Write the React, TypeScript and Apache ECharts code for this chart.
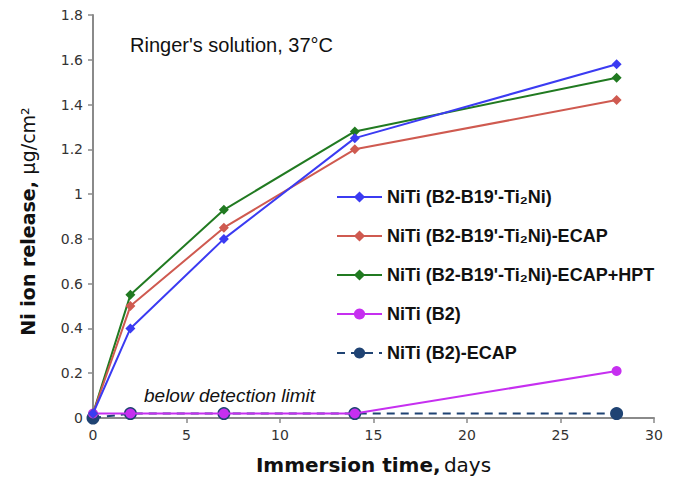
import React, { useEffect, useRef } from "react";
import * as echarts from "echarts";

const days = [0, 2, 7, 14, 28];
const seriesNames = [
  "NiTi (B2-B19'-Ti₂Ni)",
  "NiTi (B2-B19'-Ti₂Ni)-ECAP",
  "NiTi (B2-B19'-Ti₂Ni)-ECAP+HPT",
  "NiTi (B2)",
  "NiTi (B2)-ECAP",
];
const valsBase = [0.02, 0.4, 0.8, 1.25, 1.58];
const valsEcap = [0.02, 0.5, 0.85, 1.2, 1.42];
const valsEcapHpt = [0.02, 0.55, 0.93, 1.28, 1.52];
const valsB2 = [0.02, 0.02, 0.02, 0.02, 0.21];
const valsB2Ecap = [0.0, 0.02, 0.02, 0.02, 0.02];
const yTicks = ["0", "0.2", "0.4", "0.6", "0.8", "1", "1.2", "1.4", "1.6", "1.8"];

const colors = ["#3b3bf2", "#cf5a50", "#217a21", "#c62ff0", "#1f4373"];

export default function App() {
  const ref = useRef<HTMLDivElement>(null);
  useEffect(() => {
    if (!ref.current) return;
    const chart = echarts.init(ref.current, null, { renderer: "svg" });
    const mk = (vals: number[]) => vals.map((v, i) => [days[i], v]);
    const all = [valsBase, valsEcap, valsEcapHpt, valsB2, valsB2Ecap];
    const symbols = ["diamond", "diamond", "diamond", "circle", "circle"];
    const sizes = [10, 10, 10, 10, 13];
    chart.setOption({
      animation: false,
      backgroundColor: "#ffffff",
      grid: { left: 93, right: 26, top: 15, bottom: 62, containLabel: false },
      legend: {
        orient: "vertical",
        left: 331,
        top: 183,
        itemWidth: 45,
        itemHeight: 14,
        itemGap: 21,
        data: seriesNames,
        textStyle: {
          fontFamily: "Liberation Sans",
          fontWeight: "bold",
          fontSize: 18,
          lineHeight: 18,
          color: "#111",
        },
      },
      xAxis: {
        type: "value",
        min: 0,
        max: 30,
        interval: 5,
        name: "{b|Immersion time,} {n|days}",
        nameLocation: "middle",
        nameGap: 37,
        nameTextStyle: {
          rich: {
            b: { fontFamily: "DejaVu Sans", fontWeight: "bold", fontSize: 20, color: "#111" },
            n: { fontFamily: "DejaVu Sans", fontSize: 20, color: "#111" },
          },
        },
        axisLine: { lineStyle: { color: "#8a8a8a", width: 2 } },
        axisTick: { show: true, length: 5, lineStyle: { color: "#8a8a8a", width: 1.5 } },
        axisLabel: {
          fontFamily: "DejaVu Sans",
          fontSize: 14,
          color: "#333",
          margin: 10,
        },
        splitLine: { show: false },
      },
      yAxis: {
        type: "value",
        min: 0,
        max: 1.8,
        interval: 0.2,
        name: "{b|Ni ion release,}  {n|µg/cm²}",
        nameLocation: "middle",
        nameGap: 56,
        nameRotate: 90,
        nameTextStyle: {
          padding: [0, 10, 0, 0],
          rich: {
            b: { fontFamily: "DejaVu Sans", fontWeight: "bold", fontSize: 19, color: "#111" },
            n: { fontFamily: "DejaVu Sans", fontSize: 19, color: "#111" },
          },
        },
        axisLine: { show: true, lineStyle: { color: "#8a8a8a", width: 2 } },
        axisTick: { show: true, length: 5, lineStyle: { color: "#8a8a8a", width: 1.5 } },
        axisLabel: {
          fontFamily: "DejaVu Sans",
          fontSize: 14,
          color: "#333",
          margin: 10,
          formatter: (v: number) => yTicks[Math.round(v / 0.2)] ?? String(v),
        },
        splitLine: { show: false },
      },
      graphic: [
        {
          type: "text",
          left: 130,
          top: 35,
          style: {
            text: "Ringer's solution, 37°C",
            fontFamily: "Liberation Sans",
            fontSize: 20,
            fill: "#111",
          },
        },
        {
          type: "text",
          left: 144,
          top: 386,
          style: {
            text: "below detection limit",
            fontFamily: "Liberation Sans",
            fontStyle: "italic",
            fontSize: 19,
            fill: "#111",
          },
        },
      ],
      series: all.map((vals, i) => ({
        name: seriesNames[i],
        type: "line",
        data: mk(vals),
        symbol: symbols[i],
        symbolSize: sizes[i],
        showSymbol: true,
        itemStyle: { color: colors[i] },
        lineStyle: {
          color: colors[i],
          width: 2,
          type: i === 4 ? [8, 6] : "solid",
        },
        z: 10 - i,
      })),
    });
    return () => chart.dispose();
  }, []);
  return (
    <div
      ref={ref}
      style={{ position: "absolute", left: 0, top: 0, width: 680, height: 480 }}
    />
  );
}
